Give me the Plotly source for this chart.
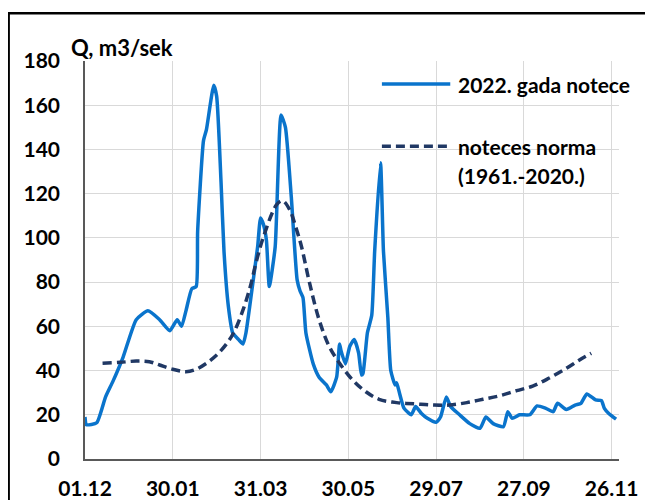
import plotly.graph_objects as go

# 2022 daily discharge, m3/s
flow_dates = [
    "2021-12-01", "2021-12-02", "2021-12-09", "2021-12-15", "2021-12-20", "2021-12-27",
    "2022-01-05", "2022-01-13", "2022-01-21", "2022-01-28", "2022-02-02", "2022-02-05",
    "2022-02-08", "2022-02-12", "2022-02-15", "2022-02-16", "2022-02-20", "2022-02-22",
    "2022-02-27", "2022-03-01", "2022-03-04", "2022-03-06", "2022-03-09", "2022-03-12",
    "2022-03-16", "2022-03-19", "2022-03-21", "2022-03-26", "2022-03-29", "2022-03-31",
    "2022-04-02", "2022-04-04", "2022-04-06", "2022-04-10", "2022-04-14", "2022-04-17",
    "2022-04-21", "2022-04-25", "2022-04-27", "2022-04-29", "2022-05-01", "2022-05-06",
    "2022-05-10", "2022-05-15", "2022-05-18", "2022-05-22", "2022-05-24", "2022-05-25",
    "2022-05-28", "2022-05-31", "2022-06-03", "2022-06-06", "2022-06-08", "2022-06-09",
    "2022-06-12", "2022-06-15", "2022-06-17", "2022-06-21", "2022-06-23", "2022-06-26",
    "2022-06-28", "2022-07-01", "2022-07-02", "2022-07-04", "2022-07-07", "2022-07-12",
    "2022-07-15", "2022-07-19", "2022-07-23", "2022-07-29", "2022-08-01", "2022-08-05",
    "2022-08-08", "2022-08-14", "2022-08-21", "2022-08-28", "2022-09-01", "2022-09-06",
    "2022-09-13", "2022-09-16", "2022-09-19", "2022-09-24", "2022-10-01", "2022-10-06",
    "2022-10-12", "2022-10-17", "2022-10-20", "2022-10-26", "2022-11-01", "2022-11-05",
    "2022-11-09", "2022-11-15", "2022-11-19", "2022-11-21", "2022-11-24", "2022-11-29",
]
flow_2022 = [
    19, 15.5, 16.4, 28, 35, 46,
    63, 67, 63, 58, 63, 60,
    67, 77, 78, 103, 144, 149,
    169, 164, 125, 94, 69, 57,
    54, 52, 57, 81, 96, 109,
    106, 99, 78, 96, 155.6, 150,
    118.6, 81, 76, 73, 57, 43,
    37, 33.5, 30.4, 37, 52, 49,
    43, 51, 54, 48, 38, 38.7,
    57, 65, 94, 134, 94, 64,
    40, 33.5, 34.5, 29.7, 23, 20,
    23.7, 20.6, 18.4, 16.6, 19, 28,
    23.7, 20, 16, 13.9, 19, 16,
    14.6, 21.4, 18.4, 20, 20, 24,
    22.9, 21.4, 25.2, 22.4, 24.4, 25.2,
    29.4, 26.7, 26.4, 22.9, 20.6, 18,
]

# long-term norm 1961-2020
norm_dates = [
    "2021-12-13", "2021-12-25", "2022-01-05", "2022-01-14", "2022-01-21", "2022-01-30",
    "2022-02-08", "2022-02-15", "2022-02-22", "2022-03-01", "2022-03-08", "2022-03-13",
    "2022-03-19", "2022-03-24", "2022-03-28", "2022-04-02", "2022-04-11", "2022-04-15",
    "2022-04-20", "2022-04-24", "2022-04-28", "2022-05-03", "2022-05-10", "2022-05-17",
    "2022-05-24", "2022-06-02", "2022-06-11", "2022-06-20", "2022-07-02", "2022-07-15",
    "2022-07-27", "2022-08-07", "2022-08-19", "2022-08-30", "2022-09-10", "2022-09-22",
    "2022-10-03", "2022-10-14", "2022-10-26", "2022-11-04", "2022-11-12",
]
flow_norm = [
    43.3, 43.7, 44.3, 44, 42.5, 40.6,
    39.5, 40.6, 43.3, 47, 52.3, 57.6,
    67.4, 78, 89, 100.5, 115, 116.8,
    112.6, 105, 96, 81, 63, 50.8,
    43.3, 35.7, 30.4, 27, 25.5, 24.9,
    24.4, 24.4, 25.5, 27, 28.5, 30.9,
    33, 36.5, 41, 44.8, 47.8,
]

tick_dates = ["2021-12-01", "2022-01-30", "2022-03-31", "2022-05-30",
              "2022-07-29", "2022-09-27", "2022-11-26"]
tick_labels = ["01.12", "30.01", "31.03", "30.05", "29.07", "27.09", "26.11"]

BLUE = "#0A74CC"
NAVY = "#203864"
DASH = "9px,5px"
FONT = "Lato"
FSIZE = 21

fig = go.Figure()
fig.add_trace(go.Scatter(
    x=flow_dates, y=flow_2022, mode="lines", name="2022. gada notece",
    line={"color": BLUE, "width": 3.5, "shape": "spline", "smoothing": 0.5},
))
fig.add_trace(go.Scatter(
    x=norm_dates, y=flow_norm, mode="lines", name="noteces norma",
    line={"color": NAVY, "width": 3.5, "dash": DASH, "shape": "spline"},
))

# hand-made legend, like the Excel original
for yy, col, dash in [(0.942, BLUE, "solid"), (0.786, NAVY, DASH)]:
    fig.add_shape(type="line", xref="paper", yref="paper",
                  x0=0.556, x1=0.684, y0=yy, y1=yy,
                  line={"color": col, "width": 3.5, "dash": dash})
for yy, label in [(0.942, "2022. gada notece"), (0.786, "noteces norma"),
                  (0.713, "(1961.-2020.)")]:
    fig.add_annotation(xref="paper", yref="paper", x=0.695, y=yy, text=label,
                       showarrow=False, xanchor="left", yanchor="middle",
                       font={"size": FSIZE, "color": "black"})

fig.add_annotation(xref="paper", yref="paper", x=-0.03, y=1.035, text="Q, m3/sek",
                   showarrow=False, xanchor="left", yanchor="middle",
                   font={"size": 22, "color": "black"})

# outer frame of the chart area
fig.add_shape(type="rect", xref="paper", yref="paper",
              x0=-0.143, x1=1.1, y0=-0.15, y1=1.12,
              line={"color": "black", "width": 2.5})

fig.update_layout(
    width=653, height=500,
    margin={"l": 77, "r": 42, "t": 53, "b": 49},
    plot_bgcolor="white", paper_bgcolor="white",
    font={"family": FONT, "size": FSIZE, "color": "black", "weight": "bold"},
    showlegend=False,
    xaxis={
        "type": "date", "range": ["2021-12-01", "2022-12-01"],
        "tickvals": tick_dates, "ticktext": tick_labels,
        "showgrid": True, "gridcolor": "#d9d9d9", "gridwidth": 1,
        "showline": True, "linecolor": "#595959", "linewidth": 1.5,
        "ticks": "outside", "ticklen": 10, "tickcolor": "rgba(0,0,0,0)",
        "zeroline": False, "automargin": False,
    },
    yaxis={
        "range": [0, 180], "dtick": 20,
        "showgrid": True, "gridcolor": "#d9d9d9", "gridwidth": 1,
        "showline": True, "linecolor": "#595959", "linewidth": 1.5,
        "ticks": "outside", "ticklen": 19, "tickcolor": "rgba(0,0,0,0)",
        "zeroline": False, "automargin": False,
    },
)

fig.write_html("out.html")
